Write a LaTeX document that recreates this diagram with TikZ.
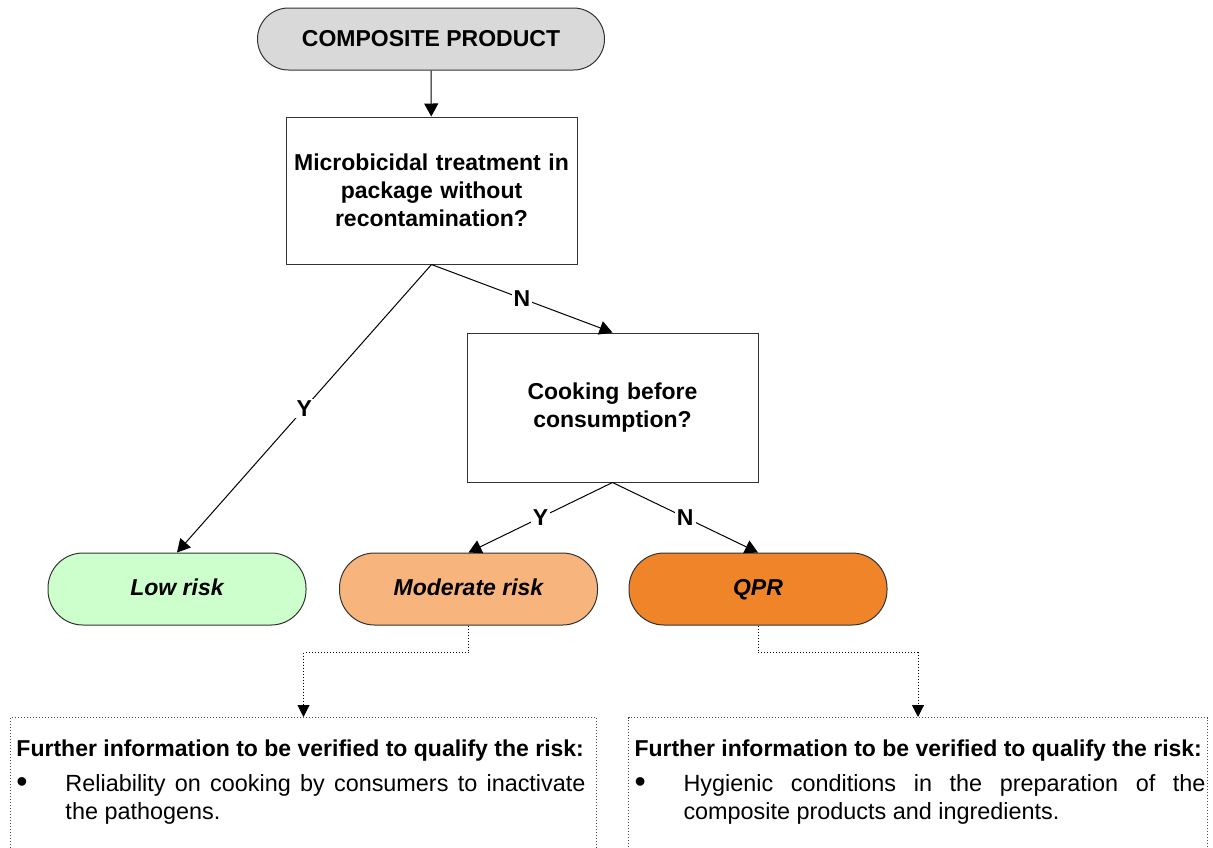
\documentclass[tikz,border=0pt]{standalone}
\usepackage{fontspec}
\setmainfont{Liberation Sans}
\usetikzlibrary{arrows.meta,calc,positioning}
\definecolor{grau}{RGB}{217,217,217}
\definecolor{gruen}{RGB}{204,255,204}
\definecolor{lachs}{RGB}{248,180,125}
\definecolor{dunkelorange}{RGB}{240,132,40}
%Aufzaehlungspunkt mit haengendem Blocksatz
\newcommand{\punkt}[2]{\noindent\makebox[24.5pt][l]{\raisebox{-0.5pt}{\fontsize{16}{14}\selectfont\textbullet}}\parbox[t]{#1}{\hyphenpenalty=10000\exhyphenpenalty=10000 #2}}
\newcommand{\weitereInfo}{{\bfseries\fontsize{11.5}{14}\selectfont Further information to be verified to qualify the risk:}}

\begin{document}
\begin{tikzpicture}[x=0.5pt,y=-0.5pt,
  >={Triangle[length=6.5pt,width=7pt]},
  every node/.style={font=\fontsize{11.5}{14}\selectfont\bfseries},
  endbox/.style={draw=black!80,line width=0.5pt,rounded corners=17.5pt,minimum width=129pt,minimum height=36pt,text height=8.5pt,text depth=2.5pt,font=\fontsize{11.5}{14}\selectfont\bfseries\itshape},
  frage/.style={draw=black!80,line width=0.5pt,minimum width=145.5pt,text width=138pt,align=center},
  pfeil/.style={line width=0.5pt,->},
  yn/.style={fill=white,inner sep=1pt,pos=0.5},
  infobox/.style={draw=black!70,densely dotted,line width=0.5pt,anchor=north,align=justify,inner xsep=3pt,inner ysep=11pt,text depth=60pt,font=\fontsize{11.7}{14}\selectfont},
  infopfeil/.style={densely dotted,line width=0.5pt,-{Triangle[length=6pt,width=6pt]}}
]
\useasboundingbox (0,0) rectangle (1213,847);
\clip (0,0) rectangle (1213,847);
%Fragen und Ergebnisse
\node[draw=black!80,line width=0.5pt,fill=grau,rounded corners=15.5pt,minimum width=173.5pt,minimum height=31pt] (produkt) at (431,39) {COMPOSITE PRODUCT};
\node[frage,minimum height=73.5pt] (mikro) at (431.5,190.5) {Microbicidal treatment in\\ package without\\ recontamination?};
\node[frage,minimum height=74.5pt] (kochen) at (612.5,407.5) {Cooking before\\ consumption?};
\node[endbox,fill=gruen] (niedrig) at (177,589) {Low risk};
\node[endbox,fill=lachs] (mittel) at (468.5,589) {Moderate risk};
\node[endbox,fill=dunkelorange] (qpr) at (758,589) {QPR};
%Zusatzinformationen
\node[infobox,text width=287pt] (info1) at (303.5,717) {\noindent\mbox{\weitereInfo}\par\vspace{3.5pt}
\punkt{260pt}{Reliability on cooking by consumers to inactivate the pathogens.}};
\node[infobox,text width=283.5pt] (info2) at (918,717) {\noindent\mbox{\weitereInfo}\par\vspace{3.5pt}
\punkt{261pt}{Hygienic conditions in the preparation of the composite products and ingredients.}};
%Pfeile
\draw[pfeil] (produkt) -- (mikro);
\draw[pfeil] (mikro.south) -- node[yn] {Y} (niedrig.north);
\draw[pfeil] (mikro.south) -- node[yn] {N} (kochen.north);
\draw[pfeil] (kochen.south) -- node[yn] {Y} (mittel.north);
\draw[pfeil] (kochen.south) -- node[yn] {N} (qpr.north);
\draw[infopfeil] (mittel.south) -- ++(0,27) -| (info1.north);
\draw[infopfeil] (qpr.south) -- ++(0,27) -| (info2.north);
\end{tikzpicture}
\end{document}
